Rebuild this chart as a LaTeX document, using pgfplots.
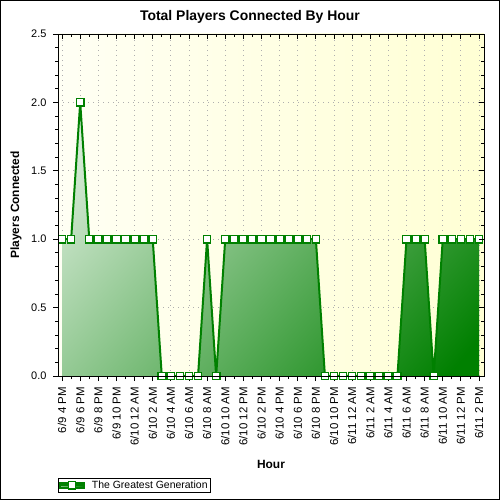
\documentclass[border=0pt]{standalone}
\usepackage{pgfplots}
\pgfplotsset{compat=1.18}
\usepackage{pgfplotstable}
\usepackage{fontspec}
\setmainfont{Liberation Sans}
\definecolor{lgreen}{RGB}{0,128,0}
\definecolor{areaLight}{RGB}{215,236,215}
\definecolor{areaDark}{RGB}{0,128,0}
\definecolor{bgLeft}{RGB}{255,255,244}
\definecolor{bgRight}{RGB}{255,255,212}
\definecolor{gridc}{RGB}{175,175,175}
\pgfdeclareverticalshading{areashade}{100bp}{rgb(0bp)=(0,0.5,0); rgb(18bp)=(0,0.5,0); rgb(82bp)=(0.88,0.94,0.88); rgb(100bp)=(0.88,0.94,0.88)}
\pgfplotstableread{
x y
0 1
1 1
2 2
3 1
4 1
5 1
6 1
7 1
8 1
9 1
10 1
11 0
12 0
13 0
14 0
15 0
16 1
17 0
18 1
19 1
20 1
21 1
22 1
23 1
24 1
25 1
26 1
27 1
28 1
29 0
30 0
31 0
32 0
33 0
34 0
35 0
36 0
37 0
38 1
39 1
40 1
41 0
42 1
43 1
44 1
45 1
46 1
}\datatable
\begin{document}
\begin{tikzpicture}
\useasboundingbox (0bp,0bp) rectangle (500bp,500bp);
\fill[white] (0bp,0bp) rectangle (500bp,500bp);
\begin{axis}[
  at={(58bp,124bp)}, anchor=south west,
  scale only axis, width=426bp, height=342bp,
  xmin=-0.45, xmax=46.55, ymin=0, ymax=2.5,
  axis background/.style={left color=bgLeft, right color=bgRight},
  axis line style={black, line width=0.9bp},
  xtick={0,2,...,46}, minor x tick num=1,
  ytick={0,0.5,...,2.5}, minor y tick num=4,
  xtick pos=left, ytick pos=left, tick align=outside,
  major tick length=5bp, minor tick length=3bp,
  tick style={black, line width=0.8bp},
  xticklabels={6/9 4 PM,6/9 6 PM,6/9 8 PM,6/9 10 PM,6/10 12 AM,6/10 2 AM,6/10 4 AM,6/10 6 AM,6/10 8 AM,6/10 10 AM,6/10 12 PM,6/10 2 PM,6/10 4 PM,6/10 6 PM,6/10 8 PM,6/10 10 PM,6/11 12 AM,6/11 2 AM,6/11 4 AM,6/11 6 AM,6/11 8 AM,6/11 10 AM,6/11 12 PM,6/11 2 PM},
  xticklabel shift=5bp,
  xticklabel style={rotate=90, anchor=east, font=\fontsize{11.5}{12}\selectfont, inner sep=1bp},
  yticklabel style={font=\fontsize{11}{12}\selectfont, xshift=-3bp, /pgf/number format/.cd, fixed, fixed zerofill, precision=1, assume math mode=true},
  /pgf/number format/assume math mode=true,
  grid=major,
  major grid style={gridc, line width=0.8bp, dash pattern=on 1bp off 4bp},
  xlabel={Hour}, ylabel={Players Connected},
  xlabel style={font=\bfseries\fontsize{12}{14}\selectfont, at={(axis description cs:0.5,-0.26)}, anchor=center},
  ylabel style={font=\bfseries\fontsize{12}{14}\selectfont, at={(axis description cs:-0.0986,0.5)}, anchor=center, rotate=0},
  legend style={at={(axis description cs:0,0)}, anchor=north west, yshift=-102bp,
    draw=black, line width=0.8bp, font=\fontsize{10.5}{11}\selectfont, inner sep=0.5bp,
    legend cell align=left, row sep=0bp},
  legend image code/.code={
    \fill[left color=areaLight!60!areaDark, right color=areaDark] (0bp,-2.5bp) rectangle (24bp,2.5bp);
    \draw[#1, mark repeat=2, mark phase=2] plot coordinates {(0bp,0bp) (12bp,0bp) (24bp,0bp)};
  },
]
\addplot[draw=none, shade, shading=areashade, shading angle=50, forget plot] table[x=x,y=y] {\datatable} \closedcycle;
\addplot[lgreen, line width=2bp, mark=square*, mark size=3.7bp, mark options={fill=white, draw=lgreen, line width=1.3bp, rounded corners=1bp}] table[x=x,y=y] {\datatable};
\addlegendentry{\hspace{5bp}The Greatest Generation\hspace{8bp}}
\end{axis}
\begin{axis}[
  at={(58bp,124bp)}, anchor=south west,
  scale only axis, width=426bp, height=342bp,
  xmin=-0.45, xmax=46.55, ymin=0, ymax=2.5,
  axis line style={black, line width=0.9bp},
  xtick={0,2,...,46}, minor x tick num=1,
  ytick={0,0.5,...,2.5}, minor y tick num=4,
  xtick pos=right, ytick pos=right, tick align=inside,
  major tick length=5bp, minor tick length=3bp,
  tick style={black, line width=0.8bp},
  xticklabels={}, yticklabels={},
]
\end{axis}
\draw[line width=1bp] (0.5bp,0.5bp) rectangle (499.5bp,499.5bp);
\node[font=\bfseries\fontsize{14}{16}\selectfont] at (250bp,483bp) {Total Players Connected By Hour};
\end{tikzpicture}
\end{document}
